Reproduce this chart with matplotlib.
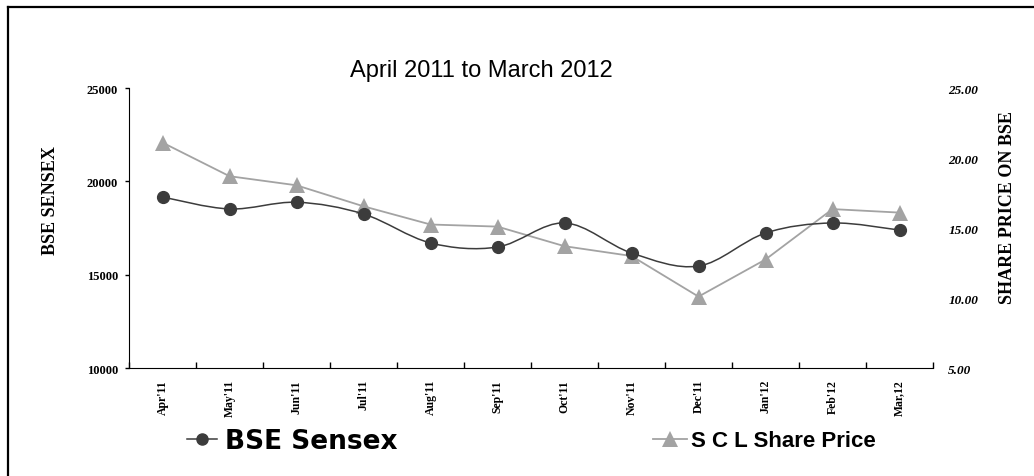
import matplotlib
matplotlib.use("Agg")
import matplotlib.pyplot as plt
import numpy as np
from matplotlib.path import Path
from matplotlib.patches import PathPatch
from matplotlib.lines import Line2D

# data
months = ["Apr'11", "May'11", "Jun'11", "Jul'11", "Aug'11", "Sep'11",
          "Oct'11", "Nov'11", "Dec'11", "Jan'12", "Feb'12", "Mar,12"]
sensex = [19160, 18520, 18880, 18250, 16700, 16480,
          17770, 16160, 15460, 17230, 17770, 17390]
scl_price = [21.1, 18.7, 18.05, 16.55, 15.25, 15.1,
             13.7, 13.0, 10.1, 12.75, 16.35, 16.1]

left_ticks = [10000, 15000, 20000, 25000]
right_ticks = [5, 10, 15, 20, 25]

dark = '#3c3c3c'
grey = '#a3a3a3'
serif = 'Liberation Serif'

fig = plt.figure(figsize=(10.34, 4.77), dpi=100)
ax = fig.add_axes([129 / 1034, 1 - 369 / 477, 804 / 1034, 280 / 477])
ax2 = ax.twinx()
# sensex drawn above the share price line
ax.set_zorder(ax2.get_zorder() + 1)
ax.patch.set_visible(False)

x = np.arange(len(months))

# smoothed sensex line (catmull-rom -> bezier, like excel's smoothed line)
pts = np.column_stack([x, sensex]).astype(float)
verts = [pts[0]]
codes = [Path.MOVETO]
for i in range(len(pts) - 1):
    p0 = pts[i - 1] if i > 0 else pts[i]
    p1 = pts[i]
    p2 = pts[i + 1]
    p3 = pts[i + 2] if i + 2 < len(pts) else pts[i + 1]
    c1 = p1 + (p2 - p0) / 6.0
    c2 = p2 - (p3 - p1) / 6.0
    verts += [c1, c2, p2]
    codes += [Path.CURVE4] * 3
ax.add_patch(PathPatch(Path(verts, codes), facecolor='none', edgecolor=dark, lw=1.1))
ax.plot(x, sensex, linestyle='none', marker='o', ms=8.5, color=dark)

ax2.plot(x, scl_price, color=grey, lw=1.3, marker='^', ms=12, markeredgewidth=0)

ax.set_xlim(-0.5, len(months) - 0.5)
ax.set_ylim(10000, 25000)
ax2.set_ylim(5, 25)

ax.set_yticks(left_ticks)
ax.set_yticklabels([str(t) for t in left_ticks], fontfamily=serif, fontweight='bold', fontsize=9)
ax.tick_params(axis='y', length=3, width=1, pad=5)

ax2.set_yticks(right_ticks)
ax2.set_yticklabels(['%.2f' % t for t in right_ticks], fontfamily=serif,
                    fontweight='bold', fontstyle='italic', fontsize=9.5)
ax2.tick_params(axis='y', length=0, pad=11)

ax.set_xticks(x)
ax.set_xticklabels(months, rotation=90, fontfamily=serif, fontweight='bold', fontsize=8.5)
ax.tick_params(axis='x', length=0, pad=8)
ax.set_xticks(np.arange(len(months) + 1) - 0.5, minor=True)
ax.tick_params(axis='x', which='minor', direction='in', length=4, width=1)

for a in (ax, ax2):
    for s in ('top', 'right'):
        a.spines[s].set_visible(False)
ax2.spines['left'].set_visible(False)
ax2.spines['bottom'].set_visible(False)
ax.spines['left'].set_color('black')
ax.spines['bottom'].set_color('black')

ax.set_ylabel('BSE SENSEX', fontfamily=serif, fontweight='bold', fontsize=13)
ax.yaxis.set_label_coords(-0.087, 0.6)
ax2.set_ylabel('SHARE PRICE ON BSE', fontfamily=serif, fontweight='bold', fontsize=13,
               rotation=90)
ax2.yaxis.set_label_coords(1.082, 0.575)

fig.text(481 / 1034, 1 - 71 / 477, 'April 2011 to March 2012', ha='center', va='center',
         fontsize=17, fontfamily='Liberation Sans')

# legend entries
h1 = Line2D([], [], color=dark, lw=1.1, marker='o', ms=8)
h2 = Line2D([], [], color=grey, lw=1.3, marker='^', ms=12, markeredgewidth=0)
fig.legend([h1], ['BSE Sensex'], loc='center left', bbox_to_anchor=(187 / 1034, 1 - 442 / 477),
           frameon=False, borderpad=0, borderaxespad=0, handlelength=1.15, handletextpad=0.3,
           prop={'family': 'DejaVu Sans', 'weight': 'bold', 'size': 19})
fig.legend([h2], ['S C L Share Price'], loc='center left', bbox_to_anchor=(653 / 1034, 1 - 442 / 477),
           frameon=False, borderpad=0, borderaxespad=0, handlelength=1.55, handletextpad=0.15,
           prop={'family': 'Liberation Sans', 'weight': 'bold', 'size': 16})

# outer frame (left and top edges)
fig.add_artist(Line2D([7.5 / 1034, 7.5 / 1034], [0, 1 - 8 / 477], color='black', lw=1.6,
                      transform=fig.transFigure))
fig.add_artist(Line2D([7.5 / 1034, 1], [1 - 8 / 477, 1 - 8 / 477], color='black', lw=1.6,
                      transform=fig.transFigure))

fig.savefig('out.png', dpi=100)
